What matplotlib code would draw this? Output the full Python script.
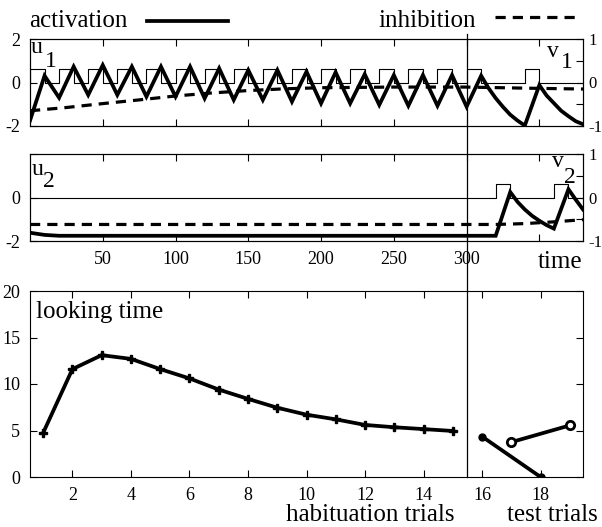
import matplotlib
matplotlib.use("Agg")
import matplotlib.pyplot as plt
from matplotlib.lines import Line2D
from matplotlib.transforms import blended_transform_factory

plt.rcParams['font.family'] = ['Liberation Serif', 'DejaVu Serif']
plt.rcParams['axes.unicode_minus'] = False

# ---- field 1 (habituation stimulus) ----
u1_t = [0, 10, 20, 30, 40, 50, 60, 70, 80, 90, 100, 110, 120, 130, 140, 150,
        160, 170, 180, 190, 200, 210, 220, 230, 240, 250, 260, 270, 280, 290,
        300, 310, 315, 320, 325, 330, 335, 340, 350, 355, 360, 365, 370, 375, 380]
u1_act = [-1.75, 0.31, -0.70, 0.73, -0.57, 0.80, -0.57, 0.73, -0.65, 0.73,
          -0.65, 0.73, -0.73, 0.65, -0.80, 0.57, -0.80, 0.57, -0.88, 0.50,
          -0.96, 0.47, -0.96, 0.38, -1.03, 0.34, -1.07, 0.34, -1.07, 0.34,
          -1.11, 0.31, -0.25, -0.72, -1.12, -1.48, -1.75, -1.98, -0.12, -0.60,
          -0.95, -1.30, -1.55, -1.78, -1.92]
v1_t = [0, 25, 50, 75, 100, 125, 150, 175, 200, 250, 300, 340, 380]
v1_inh = [-0.65, -0.575, -0.485, -0.40, -0.31, -0.24, -0.185, -0.145, -0.12,
          -0.105, -0.105, -0.13, -0.15]
stim1_on = [0, 20, 40, 60, 80, 100, 120, 140, 160, 180, 200, 220, 240, 260,
            280, 300, 340]

# ---- field 2 (novel stimulus) ----
u2_t = [0, 10, 20, 320, 330, 335, 340, 345, 350, 355, 360, 370, 375, 380]
u2_act = [-1.62, -1.72, -1.76, -1.76, 0.25, -0.20, -0.55, -0.84, -1.07, -1.27,
          -1.43, 0.38, -0.10, -0.55]
v2_t = [0, 320, 340, 360, 380]
v2_inh = [-0.62, -0.62, -0.60, -0.56, -0.51]
stim2_on = [320, 360]

stim_width = 10
stim_level = 0.62
t_end = 380

# ---- looking times ----
hab_trials = list(range(1, 16))
hab_look = [4.75, 11.6, 13.1, 12.7, 11.6, 10.6, 9.4, 8.4, 7.45, 6.7, 6.2,
            5.6, 5.35, 5.15, 4.95]
test_fam_trials = [16, 18]
test_fam_look = [4.35, 0.0]
test_nov_trials = [17, 19]
test_nov_look = [3.75, 5.55]


def pulse_trace(onsets, width, level, end):
    ts, ys = [0], [0]
    for on in onsets:
        ts += [on, on, on + width, on + width]
        ys += [0, level, level, 0]
    ts.append(end)
    ys.append(0)
    return ts, ys


fig = plt.figure(figsize=(6.02, 5.27), dpi=100)
W, H = 602, 527


def px_axes(left, top, right, bottom):
    return fig.add_axes([left / W, 1 - bottom / H, (right - left) / W, (bottom - top) / H])


ax1 = px_axes(30, 39, 583, 126)
ax2 = px_axes(30, 154, 583, 241)
ax3 = px_axes(30, 291, 583, 477)

tick_kw = dict(direction='in', length=5, width=0.8)
act_kw = dict(color='black', lw=2.7, solid_joinstyle='miter')
inh_kw = dict(color='black', lw=2.3, ls=(0, (3.2, 2.2)))

for ax, onsets, act_t, act, inh_t, inh in [
        (ax1, stim1_on, u1_t, u1_act, v1_t, v1_inh),
        (ax2, stim2_on, u2_t, u2_act, v2_t, v2_inh)]:
    st, sy = pulse_trace(onsets, stim_width, stim_level, t_end)
    ax.plot(st, sy, color='black', lw=0.8)
    ax.plot(act_t, act, **act_kw)
    ax.set_xlim(0, t_end)
    ax.set_ylim(-2, 2)
    ax.set_xticks(range(50, 351, 50))
    ax.tick_params(top=True, labelsize=13, pad=7, **tick_kw)
    axr = ax.twinx()
    axr.plot(inh_t, inh, **inh_kw)
    axr.set_ylim(-1, 1)
    axr.set_yticks([-1, -0.5, 0, 0.5, 1])
    axr.set_yticklabels(['-1', '', '0', '', '1'])
    axr.tick_params(pad=4, labelsize=12, **tick_kw)
    for a in (ax, axr):
        for s in a.spines.values():
            s.set_linewidth(0.8)

ax1.set_yticks([-2, 0, 2])
ax1.set_xticklabels([])
ax2.set_yticks([-2, 0, 2])
ax2.set_yticklabels(['-2', '0', ''])
ax2.set_xticklabels(['50', '100', '150', '200', '250', '300', ''])

ax3.plot(hab_trials, hab_look, color='black', lw=2.7, marker='P', ms=6)
ax3.plot(test_fam_trials, test_fam_look, color='black', lw=2.7, marker='o', ms=5)
ax3.plot(test_nov_trials, test_nov_look, color='black', lw=2.7, marker='o', ms=6,
         mfc='white', mew=2)
ax3.set_xlim(0.55, 19.45)
ax3.set_ylim(0, 20)
ax3.set_xticks(range(2, 19, 2))
ax3.set_yticks(range(0, 21, 5))
ax3.tick_params(top=True, right=True, pad=7, labelsize=13, **tick_kw)
for s in ax3.spines.values():
    s.set_linewidth(0.8)

# separator between habituation and test phase
trans = blended_transform_factory(ax1.transData, fig.transFigure)
fig.add_artist(Line2D([300, 300], [1 - 34 / H, 1 - 477 / H], transform=trans,
                      color='black', lw=0.9))

big = 18
fig.text(29 / W, 1 - 27 / H, 'activation', fontsize=big, va='baseline')
fig.add_artist(Line2D([147 / W, 228 / W], [1 - 21 / H] * 2, color='black', lw=2.7))
fig.text(378 / W, 1 - 27 / H, 'inhibition', fontsize=big, va='baseline')
fig.add_artist(Line2D([495 / W, 578 / W], [1 - 17 / H] * 2, color='black', lw=2.3,
                      ls=(0, (3.2, 2.2))))

fig.text(31 / W, 1 - 53 / H, 'u', fontsize=17, va='baseline')
fig.text(45 / W, 1 - 67 / H, '1', fontsize=17, va='baseline')
fig.text(547 / W, 1 - 57 / H, 'v', fontsize=17, va='baseline')
fig.text(561 / W, 1 - 68 / H, '1', fontsize=17, va='baseline')
fig.text(32 / W, 1 - 175 / H, 'u', fontsize=17, va='baseline')
fig.text(43 / W, 1 - 187 / H, '2', fontsize=17, va='baseline')
fig.text(552 / W, 1 - 167 / H, 'v', fontsize=17, va='baseline')
fig.text(564 / W, 1 - 183 / H, '2', fontsize=17, va='baseline')

fig.text(582 / W, 1 - 268 / H, 'time', fontsize=big, ha='right', va='baseline')
fig.text(36 / W, 1 - 318 / H, 'looking time', fontsize=big, va='baseline')
fig.text(454 / W, 1 - 521 / H, 'habituation trials', fontsize=big, ha='right', va='baseline')
fig.text(598 / W, 1 - 521 / H, 'test trials', fontsize=big, ha='right', va='baseline')

fig.savefig('out.png', dpi=100)
